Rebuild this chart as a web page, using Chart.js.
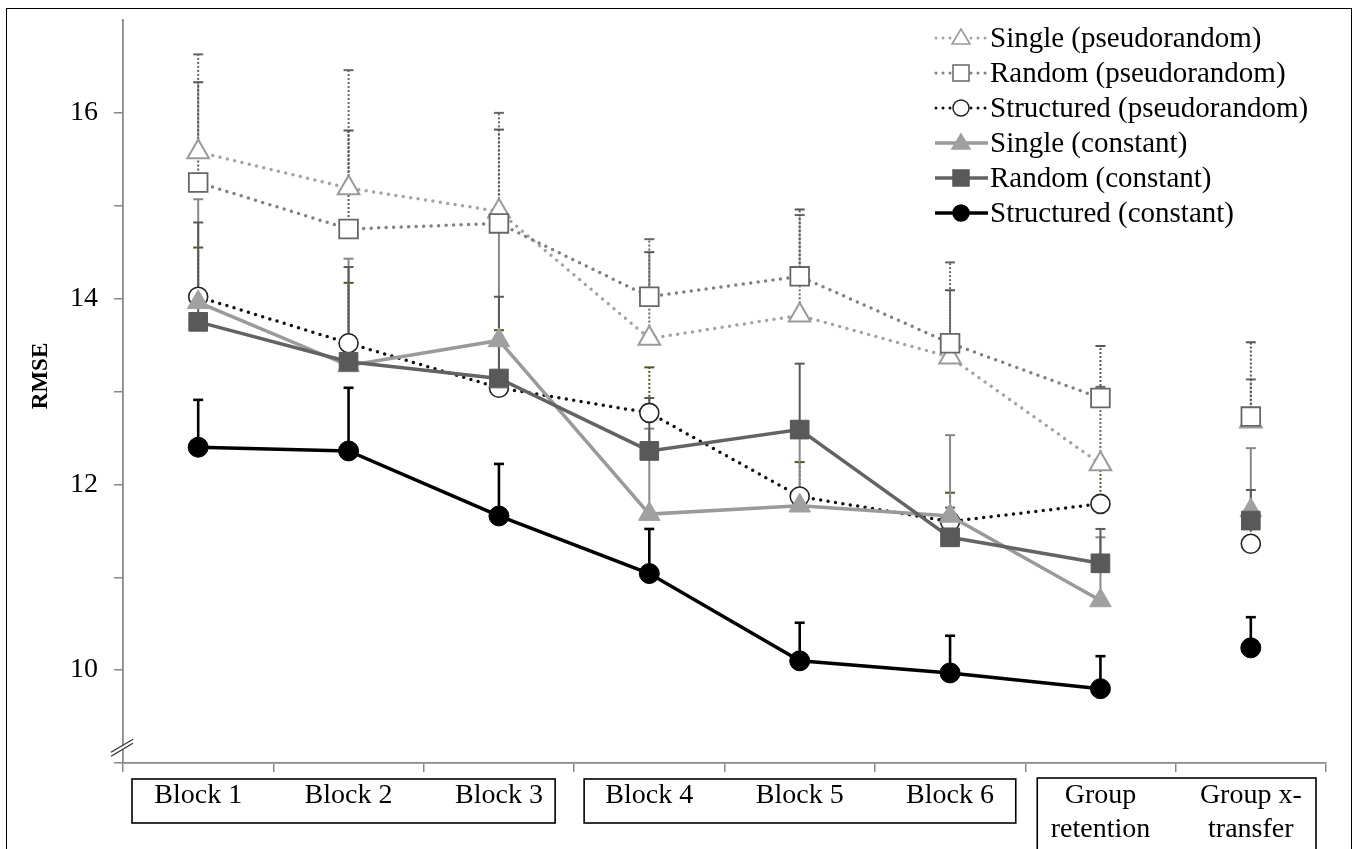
<!DOCTYPE html>
<html>
<head>
<meta charset="utf-8">
<script src="https://cdn.jsdelivr.net/npm/chart.js@4/dist/chart.umd.min.js"></script>
<style>
  html, body { margin: 0; padding: 0; background: #fff; }
  #wrap { position: relative; width: 1357px; height: 849px; overflow: hidden; }
  #frame { position: absolute; left: 6px; top: 8px; width: 1346px; height: 900px; border: 1.5px solid #000; box-sizing: border-box; pointer-events: none; }
  #legend { position: absolute; left: 933px; top: 20px; font-family: "Liberation Serif", "Times New Roman", serif; font-size: 29px; color: #000; }
  .row { display: flex; align-items: center; height: 35px; white-space: nowrap; }
  .row svg { width: 57px; height: 30px; flex: none; }
  #ytitle { position: absolute; left: 40px; top: 376px; transform: translate(-50%, -50%) rotate(-90deg);
            font-family: "Liberation Serif", "Times New Roman", serif; font-weight: bold; font-size: 23px; color: #000; white-space: nowrap; }
</style>
</head>
<body>
<div id="wrap">
  <canvas id="c" width="1357" height="849"></canvas>
  <div id="frame"></div>
  <div id="ytitle">RMSE</div>
  <div id="legend"></div>
</div>
<script>
// ---------- data ----------
const categories = ['Block 1', 'Block 2', 'Block 3', 'Block 4', 'Block 5', 'Block 6', ['Group', 'retention'], ['Group x-', 'transfer']];

const singlePseudo     = [15.58, 15.19, 14.94, 13.57, 13.82, 13.37, 12.22, 12.68];
const singlePseudoErr  = [1.05, 1.27, 1.06, 1.07, 1.08, 1.02, 0.83, 0.45];

const randomPseudo     = [15.25, 14.75, 14.81, 14.02, 14.24, 13.52, 12.93, 12.73];
const randomPseudoErr  = [1.08, 1.06, 1.01, 0.48, 0.72, 0.57, 0.56, 0.80];

const structPseudo     = [14.02, 13.52, 13.04, 12.77, 11.87, 11.60, 11.79, 11.36];
const structPseudoErr  = [0.53, 0.65, 0.62, 0.49, 0.37, 0.31, 0.41, 0.24];

const singleConst      = [13.96, 13.28, 13.55, 11.68, 11.77, 11.66, 10.75, 11.72];
const singleConstErr   = [1.11, 1.15, 1.20, 0.92, 0.78, 0.87, 0.68, 0.67];

const randomConst      = [13.75, 13.32, 13.14, 12.36, 12.59, 11.43, 11.15, 11.61];
const randomConstErr   = [1.07, 1.02, 0.88, 0.57, 0.71, 0.32, 0.37, 0.33];

const structConst      = [12.40, 12.36, 11.66, 11.04, 10.10, 9.97, 9.80, 10.24];
const structConstErr   = [0.51, 0.68, 0.56, 0.48, 0.41, 0.40, 0.35, 0.33];

const seriesNames = ['Single (pseudorandom)', 'Random (pseudorandom)', 'Structured (pseudorandom)',
                     'Single (constant)', 'Random (constant)', 'Structured (constant)'];
const yTickLabels = [10, 12, 14, 16];

// ---------- styles ----------
const FONT = '"Liberation Serif", "Times New Roman", serif';
const gapLast = { borderColor: ctx => ctx.p1DataIndex === categories.length - 1 ? 'rgba(0,0,0,0)' : undefined };

function dotted(color) {
  return { borderColor: color, borderWidth: 3.5, borderDash: [0, 7.5], borderCapStyle: 'round' };
}
function solid(color) {
  return { borderColor: color, borderWidth: 3.5, borderDash: [] };
}

const datasets = [
  Object.assign({ label: seriesNames[0], data: singlePseudo, errorPlus: singlePseudoErr,
    errColor: '#666', errDash: [2, 2], errWidth: 2,
    pointStyle: 'triangle', pointRadius: 12.5, pointBackgroundColor: '#fff', pointBorderColor: '#9a9a9a', pointBorderWidth: 2,
    order: 5 }, dotted('#a3a3a3')),
  Object.assign({ label: seriesNames[1], data: randomPseudo, errorPlus: randomPseudoErr,
    errColor: '#555', errDash: [2, 2], errWidth: 2,
    pointStyle: 'rect', pointRadius: 13.2, pointBackgroundColor: '#fff', pointBorderColor: '#666', pointBorderWidth: 1.8,
    order: 4 }, dotted('#808080')),
  Object.assign({ label: seriesNames[2], data: structPseudo, errorPlus: structPseudoErr,
    errColor: '#4b5a22', errDash: [2, 2], errWidth: 2,
    pointStyle: 'circle', pointRadius: 9.5, pointBackgroundColor: '#fff', pointBorderColor: '#222', pointBorderWidth: 1.6,
    order: 3 }, dotted('#111')),
  Object.assign({ label: seriesNames[3], data: singleConst, errorPlus: singleConstErr,
    errColor: '#888', errDash: [], errWidth: 2,
    pointStyle: 'triangle', pointRadius: 12.5, pointBackgroundColor: '#a0a0a0', pointBorderColor: '#a0a0a0', pointBorderWidth: 1,
    order: 2 }, solid('#9a9a9a')),
  Object.assign({ label: seriesNames[4], data: randomConst, errorPlus: randomConstErr,
    errColor: '#5a5a5a', errDash: [], errWidth: 2,
    pointStyle: 'rect', pointRadius: 13.2, pointBackgroundColor: '#595959', pointBorderColor: '#595959', pointBorderWidth: 1,
    order: 1 }, solid('#636363')),
  Object.assign({ label: seriesNames[5], data: structConst, errorPlus: structConstErr,
    errColor: '#000', errDash: [], errWidth: 2.6,
    pointStyle: 'circle', pointRadius: 10, pointBackgroundColor: '#000', pointBorderColor: '#000', pointBorderWidth: 1,
    order: 0 }, solid('#000')),
].map(d => Object.assign(d, { segment: gapLast, fill: false, tension: 0 }));

// ---------- plugins ----------
const errorBars = {
  id: 'errorBars',
  beforeDatasetsDraw(chart) {
    const { ctx, scales: { x, y } } = chart;
    ctx.save();
    chart.data.datasets.forEach(ds => {
      ctx.strokeStyle = ds.errColor;
      ctx.lineWidth = ds.errWidth;
      ds.data.forEach((v, i) => {
        const px = x.getPixelForValue(i);
        const y0 = y.getPixelForValue(v);
        const y1 = y.getPixelForValue(v + ds.errorPlus[i]);
        ctx.setLineDash(ds.errDash);
        ctx.beginPath(); ctx.moveTo(px, y0); ctx.lineTo(px, y1); ctx.stroke();
        ctx.setLineDash([]);
        ctx.beginPath(); ctx.moveTo(px - 5, y1); ctx.lineTo(px + 5, y1); ctx.stroke();
      });
    });
    ctx.restore();
  }
};

const decorations = {
  id: 'decorations',
  afterDraw(chart) {
    const { ctx, scales: { x, y }, chartArea } = chart;
    ctx.save();
    // axis break mark
    const ax = chartArea.left;
    const yb = y.getPixelForValue(9.18);
    ctx.strokeStyle = '#fff'; ctx.lineWidth = 4;
    ctx.beginPath(); ctx.moveTo(ax - 4, yb + 4); ctx.lineTo(ax + 4, yb - 2); ctx.stroke();
    ctx.strokeStyle = '#333'; ctx.lineWidth = 1.3;
    [[0, 2], [0, -2]].forEach(([dx, dy]) => {
      ctx.beginPath();
      ctx.moveTo(ax - 12 + dx, yb + 8 + dy);
      ctx.lineTo(ax + 10 + dx, yb - 5 + dy);
      ctx.stroke();
    });
    // category group boxes
    const w = (x.getPixelForValue(1) - x.getPixelForValue(0));
    const edge = i => x.getPixelForValue(i) - w / 2;
    ctx.strokeStyle = '#000'; ctx.lineWidth = 1.6;
    const boxes = [
      [edge(0) + 9, edge(3) - 19, 779, 823],
      [edge(3) + 10, edge(6) - 9.5, 779, 823],
      [edge(6) + 12, edge(8) - 10, 778, 900],
    ];
    boxes.forEach(([l, r, t, b]) => ctx.strokeRect(l, t, r - l, b - t));
    ctx.restore();
  }
};

// ---------- chart ----------
new Chart(document.getElementById('c'), {
  type: 'line',
  data: { labels: categories, datasets },
  plugins: [errorBars, decorations],
  options: {
    responsive: false,
    animation: false,
    layout: { padding: { left: 0, top: 20, right: 31, bottom: 0 } },
    plugins: { legend: { display: false }, tooltip: { enabled: false } },
    scales: {
      x: {
        type: 'category',
        offset: true,
        grid: { offset: true, drawOnChartArea: false, drawTicks: true, tickLength: 9, color: '#888', lineWidth: 1.5 },
        border: { color: '#8a8a8a', width: 1.8 },
        ticks: { font: { family: FONT, size: 28 }, color: '#000', padding: 7, maxRotation: 0, autoSkip: false },
        afterFit(s) { s.height = 86; s.paddingLeft = 0; s.paddingRight = 0; }
      },
      y: {
        min: 9, max: 17,
        grid: { drawOnChartArea: false, drawTicks: true, tickLength: 9,
                color: c => (c.tick && c.tick.value === 17) ? 'rgba(0,0,0,0)' : '#888', lineWidth: 1.5 },
        border: { color: '#8a8a8a', width: 1.8 },
        ticks: { stepSize: 1, font: { family: FONT, size: 28 }, color: '#000', padding: 16,
                 callback: v => yTickLabels.includes(v) ? String(v) : '' },
        afterFit(s) { s.width = 123; s.paddingTop = 0; s.paddingBottom = 0; }
      }
    }
  }
});

// ---------- legend (HTML) ----------
const legendEl = document.getElementById('legend');
function markerSvg(ds) {
  const cx = 28, cy = 15;
  const fill = ds.pointBackgroundColor, stroke = ds.pointBorderColor;
  if (ds.pointStyle === 'triangle') {
    return `<polygon points="${cx},${cy - 9} ${cx - 9},${cy + 6} ${cx + 9},${cy + 6}" fill="${fill}" stroke="${stroke}" stroke-width="1.6"/>`;
  }
  if (ds.pointStyle === 'rect') {
    return `<rect x="${cx - 8}" y="${cy - 8}" width="16" height="16" fill="${fill}" stroke="${stroke}" stroke-width="1.5"/>`;
  }
  return `<circle cx="${cx}" cy="${cy}" r="8" fill="${fill}" stroke="${stroke}" stroke-width="1.5"/>`;
}
datasets.forEach(ds => {
  const isDotted = ds.borderDash && ds.borderDash.length;
  const line = isDotted
    ? `<line x1="3" y1="15" x2="54" y2="15" stroke="${ds.borderColor}" stroke-width="3" stroke-dasharray="0 7" stroke-linecap="round"/>`
    : `<line x1="2" y1="15" x2="55" y2="15" stroke="${ds.borderColor}" stroke-width="3.5"/>`;
  const row = document.createElement('div');
  row.className = 'row';
  row.innerHTML = `<svg viewBox="0 0 57 30">${line}${markerSvg(ds)}</svg><span>${ds.label}</span>`;
  legendEl.appendChild(row);
});
</script>
</body>
</html>
